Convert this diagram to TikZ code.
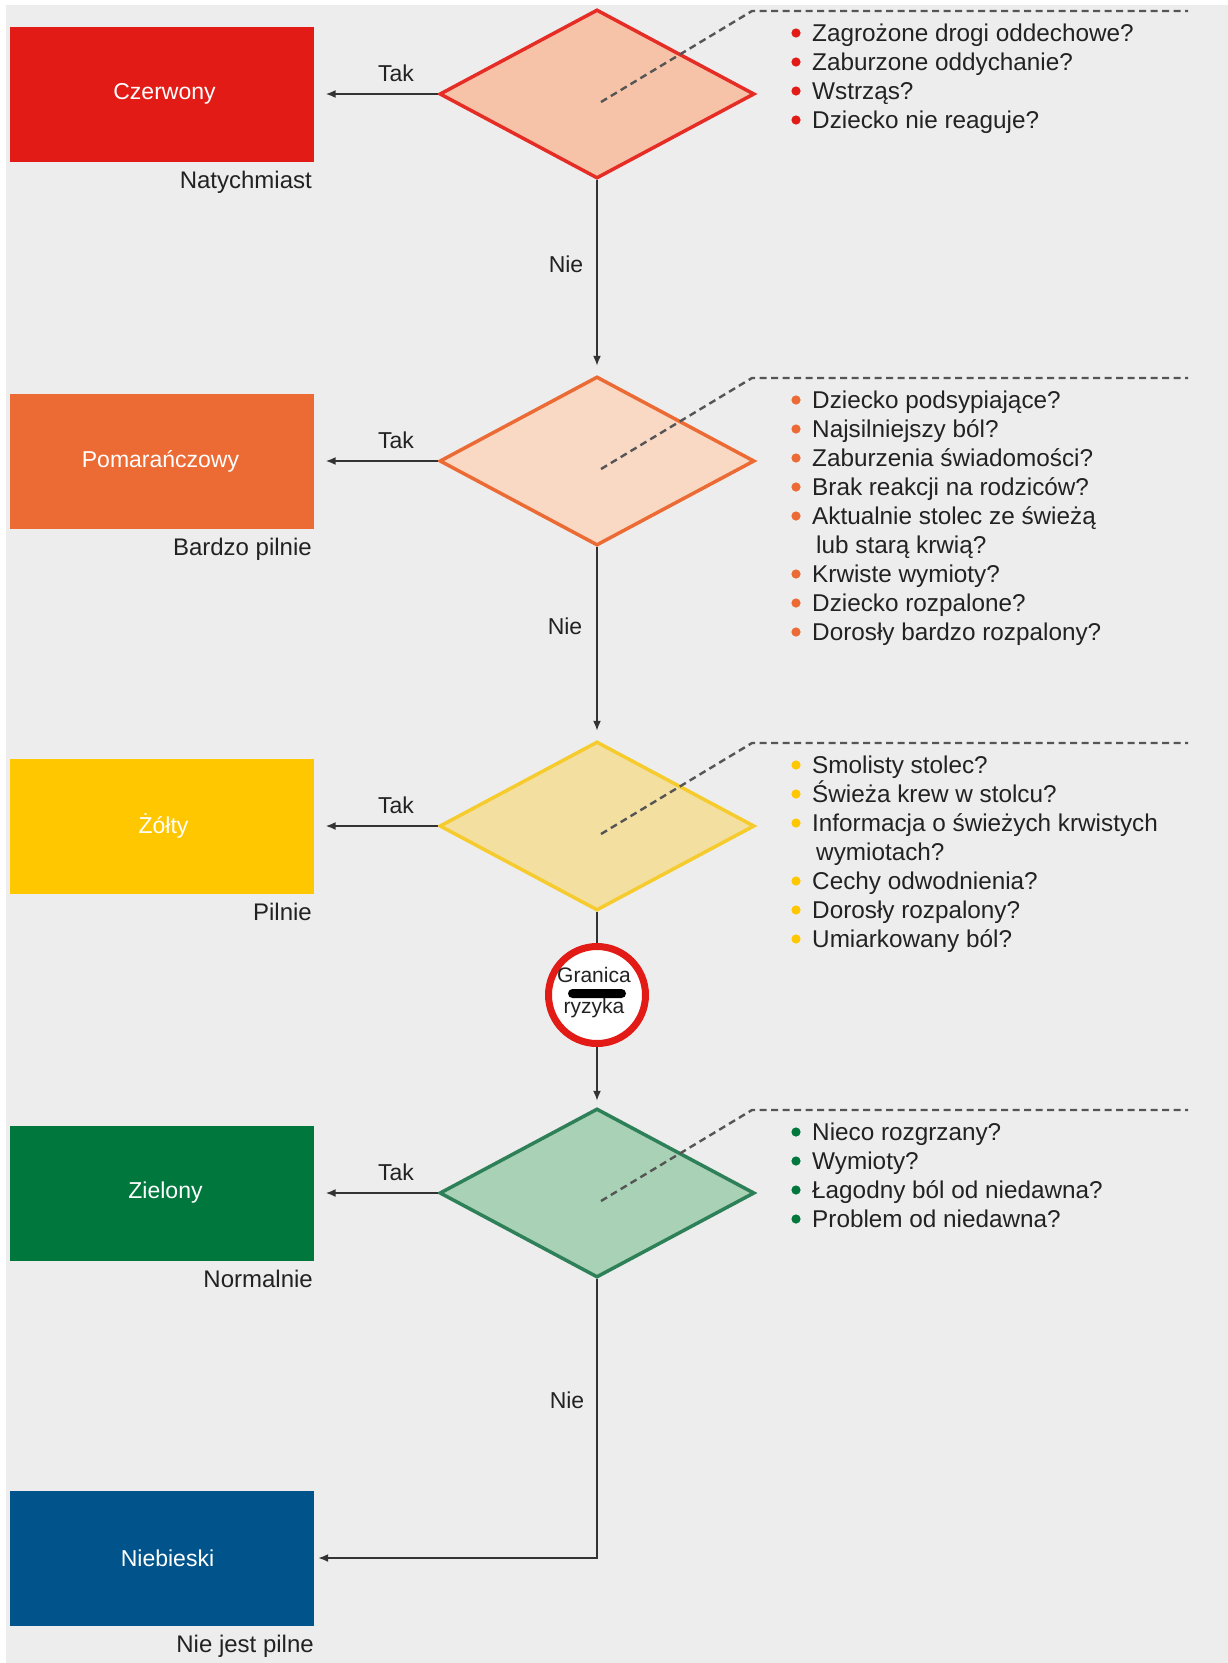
\documentclass[tikz,border=0pt]{standalone}
\usepackage{fontspec}
\setmainfont{Liberation Sans}
\usetikzlibrary{shapes.geometric,arrows.meta,calc}

\definecolor{bgc}{HTML}{EDEDED}
\definecolor{txt}{HTML}{222222}
\definecolor{linec}{HTML}{333333}
\definecolor{dashc}{HTML}{555555}
\definecolor{cred}{HTML}{E31B17}
\definecolor{credd}{HTML}{F6C3A9}
\definecolor{credb}{HTML}{E52D25}
\definecolor{corg}{HTML}{EC6B35}
\definecolor{corgd}{HTML}{F9D8C4}
\definecolor{cyel}{HTML}{FFC700}
\definecolor{cyeld}{HTML}{F3DFA0}
\definecolor{cyelb}{HTML}{F6CB2E}
\definecolor{cgrn}{HTML}{00783D}
\definecolor{cgrnd}{HTML}{A9D1B5}
\definecolor{cgrnb}{HTML}{2E8058}
\definecolor{cblu}{HTML}{00548B}

\newcommand\setfs[1]{\fontsize{#1pt}{#1pt}\selectfont}

\begin{document}
\begin{tikzpicture}[x=1pt,y=-1pt,
  catbox/.style={rectangle, minimum width=304pt, minimum height=135pt, inner sep=0pt},
  catlbl/.style={inner sep=0pt, text=white, font=\setfs{23}},
  decision/.style={diamond, minimum width=315pt, minimum height=169pt, inner sep=0pt, line width=3.5pt},
  conn/.style={draw=linec, line width=1.6pt, -{Latex[length=10pt,width=8pt]}},
  plainline/.style={draw=linec, line width=1.6pt},
  leader/.style={draw=dashc, line width=2.4pt, dash pattern=on 7pt off 4.5pt},
  lbl/.style={font=\setfs{23}, text=txt, inner sep=0pt, anchor=base},
  sublbl/.style={font=\setfs{24}, text=txt, inner sep=0pt, anchor=base east},
  itemtext/.style={font=\setfs{24.3}, text=txt, inner sep=0pt, anchor=base west}]

\useasboundingbox (0,0) rectangle (1228,1663);
\fill[white] (0,0) rectangle (1228,1663);
\fill[bgc] (6,5) rectangle (1228,1663);

% category boxes and their names
\node[catbox, fill=cred] (b1) at (161.5,94) {};
\node[catbox, fill=corg] (b2) at (161.5,461) {};
\node[catbox, fill=cyel] (b3) at (161.5,826) {};
\node[catbox, fill=cgrn] (b4) at (161.5,1193) {};
\node[catbox, fill=cblu] (b5) at (161.5,1558) {};
\node[catlbl] (b1l) at ($(b1.center)+(3,0)$) {Czerwony};
\node[catlbl] (b2l) at ($(b2.center)+(-1,0)$) {Pomarańczowy};
\node[catlbl] (b3l) at ($(b3.center)+(2,0)$) {Żółty};
\node[catlbl] (b4l) at ($(b4.center)+(4,0)$) {Zielony};
\node[catlbl] (b5l) at ($(b5.center)+(6,0)$) {Niebieski};

% urgency captions
\node[sublbl] (s1) at (312,188.5) {Natychmiast};
\node[sublbl] (s2) at (312,555.5) {Bardzo pilnie};
\node[sublbl] (s3) at (312,920.5) {Pilnie};
\node[sublbl] (s4) at (313,1287.5) {Normalnie};
\node[sublbl] (s5) at (314,1652.5) {Nie jest pilne};

% decisions
\node[decision, fill=credd, draw=credb] (d1) at (597,94) {};
\node[decision, fill=corgd, draw=corg] (d2) at (597,461) {};
\node[decision, fill=cyeld, draw=cyelb] (d3) at (597,826) {};
\node[decision, fill=cgrnd, draw=cgrnb] (d4) at (597,1193) {};

% risk threshold sign
\node[circle, minimum size=97pt, inner sep=0pt, line width=7pt, draw=cred, fill=white] (g) at (597,995) {};
\fill[black, rounded corners=4.5pt] (568,989) rectangle (626,998);
\node[lbl, font=\setfs{21}] (g1) at (594,982) {Granica};
\node[lbl, font=\setfs{21}] (g2) at (594,1013) {ryzyka};

% yes branches
\draw[conn, shorten >=12pt] (d1.west) -- (b1.east);
\draw[conn, shorten >=12pt] (d2.west) -- (b2.east);
\draw[conn, shorten >=12pt] (d3.west) -- (b3.east);
\draw[conn, shorten >=12pt] (d4.west) -- (b4.east);
\node[lbl] (t1) at (396,81) {Tak};
\node[lbl] (t2) at (396,448) {Tak};
\node[lbl] (t3) at (396,813) {Tak};
\node[lbl] (t4) at (396,1180) {Tak};

% no branches
\draw[conn, shorten >=9pt] (d1.south) -- (d2.north);
\draw[conn, shorten >=9pt] (d2.south) -- (d3.north);
\draw[plainline] (d3.south) -- (g.north);
\draw[conn, shorten >=6pt] (g.south) -- (d4.north);
\draw[conn, shorten >=4.5pt] (d4.south) -- (d4.south |- b5.east) -- (b5.east);
\node[lbl] (n1) at (566,272) {Nie};
\node[lbl] (n2) at (565,634) {Nie};
\node[lbl] (n3) at (567,1408) {Nie};

% leader lines to the question lists
\foreach \d in {d1,d2,d3,d4}
  \draw[leader] ($(\d.center)+(4,8)$) -- ++(151,-91) -- ++(436,0);

% question lists
\foreach \t [count=\i from 0] in {Zagrożone drogi oddechowe?, Zaburzone oddychanie?, Wstrząs?, Dziecko nie reaguje?}
  \node[itemtext] (qa-\i) at (812,{41+29*\i}) {\t};
\foreach \i in {0,...,3}
  \fill[cred] (796,{33+29*\i}) circle (4.6pt);

\foreach \t [count=\i from 0] in {Dziecko podsypiające?, Najsilniejszy ból?, Zaburzenia świadomości?, Brak reakcji na rodziców?, Aktualnie stolec ze świeżą, \hspace{4pt}lub starą krwią?, Krwiste wymioty?, Dziecko rozpalone?, Dorosły bardzo rozpalony?}
  \node[itemtext] (qb-\i) at (812,{408+29*\i}) {\t};
\foreach \i in {0,1,2,3,4,6,7,8}
  \fill[corg] (796,{400+29*\i}) circle (4.6pt);

\foreach \t [count=\i from 0] in {Smolisty stolec?, Świeża krew w stolcu?, Informacja o świeżych krwistych, \hspace{4pt}wymiotach?, Cechy odwodnienia?, Dorosły rozpalony?, Umiarkowany ból?}
  \node[itemtext] (qc-\i) at (812,{773+29*\i}) {\t};
\foreach \i in {0,1,2,4,5,6}
  \fill[cyel] (796,{765+29*\i}) circle (4.6pt);

\foreach \t [count=\i from 0] in {Nieco rozgrzany?, Wymioty?, Łagodny ból od niedawna?, Problem od niedawna?}
  \node[itemtext] (qd-\i) at (812,{1140+29*\i}) {\t};
\foreach \i in {0,...,3}
  \fill[cgrn] (796,{1132+29*\i}) circle (4.6pt);

\end{tikzpicture}
\end{document}
